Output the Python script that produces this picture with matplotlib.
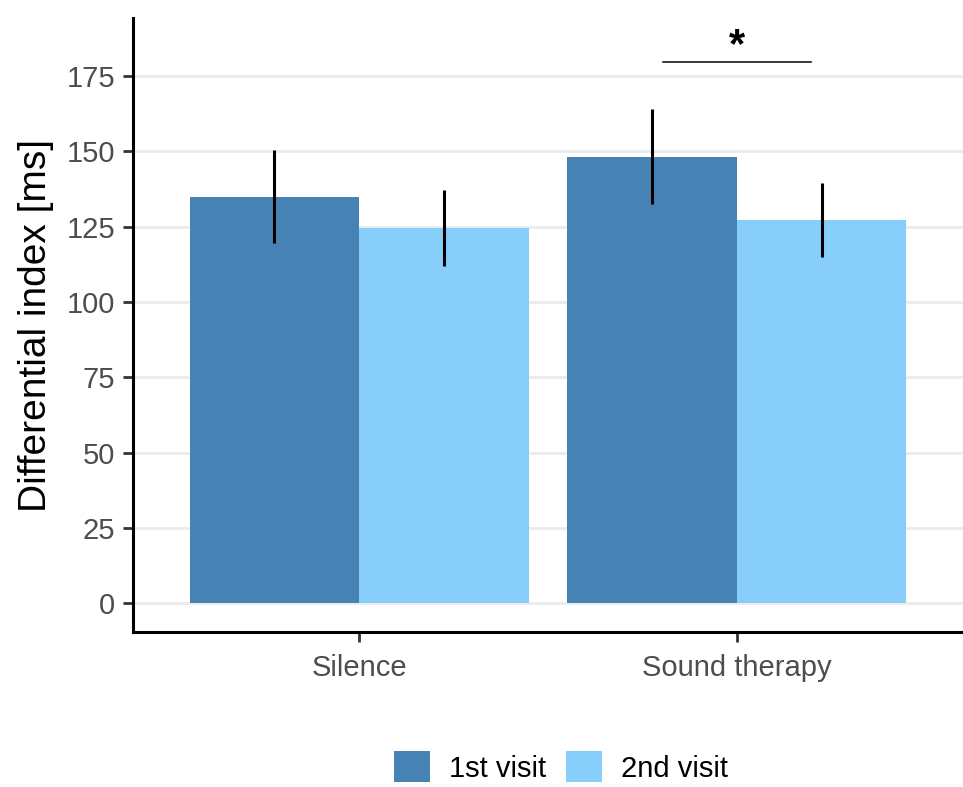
import numpy as np
import matplotlib
matplotlib.use("Agg")
import matplotlib.pyplot as plt
from matplotlib.patches import Patch

plt.rcParams['font.family'] = ['Liberation Sans', 'DejaVu Sans']

# data
conditions = ["Silence", "Sound therapy"]
visits = ["1st visit", "2nd visit"]
means_1st = [135.0, 148.2]
means_2nd = [124.5, 127.2]
err_1st = [15.5, 15.8]
err_2nd = [12.6, 12.3]
colors = ["#4682B4", "#87CEFA"]
y_ticks = [0, 25, 50, 75, 100, 125, 150, 175]

fig = plt.figure(figsize=(9.63, 7.87), dpi=100)
ax = fig.add_axes([133 / 963, 1 - 632 / 787, 830 / 963, 614 / 787])

x = np.arange(1, len(conditions) + 1)
w = 0.45
ax.set_axisbelow(True)
ax.grid(axis='y', color='#EBEBEB', linewidth=2)
ax.bar(x - w / 2, means_1st, width=w, color=colors[0], zorder=2)
ax.bar(x + w / 2, means_2nd, width=w, color=colors[1], zorder=2)
ax.errorbar(x - w / 2, means_1st, yerr=err_1st, fmt='none', ecolor='black',
            elinewidth=2.2, capsize=0, zorder=3)
ax.errorbar(x + w / 2, means_2nd, yerr=err_2nd, fmt='none', ecolor='black',
            elinewidth=2.2, capsize=0, zorder=3)

# significance marker
ax.plot([1.805, 2.198], [179.7, 179.7], color='black', linewidth=1.1)
ax.text(2.0, 178.3, "*", ha='center', va='bottom', fontsize=30,
        fontweight='bold')

ax.set_xlim(0.4, 2.6)
ax.set_ylim(-9.6, 194.3)
ax.set_xticks(x)
ax.set_xticklabels(conditions)
ax.set_yticks(y_ticks)
ax.tick_params(axis='both', labelsize=21, labelcolor='#4D4D4D', color='#333333',
               length=7, width=2)
ax.tick_params(axis='x', pad=9)
ax.tick_params(axis='y', pad=6)
ax.set_ylabel("Differential index [ms]", fontsize=28, labelpad=9)
for s in ['top', 'right']:
    ax.spines[s].set_visible(False)
for s in ['left', 'bottom']:
    ax.spines[s].set_linewidth(2.2)
    ax.spines[s].set_color('black')

handles = [Patch(facecolor=c, edgecolor='none') for c in colors]
fig.legend(handles, visits, loc='center', bbox_to_anchor=(561 / 963, 1 - 767 / 787),
           ncol=2, frameon=False, fontsize=21, handlelength=1.24, handleheight=1.24,
           handletextpad=0.65, columnspacing=0.7, borderpad=0)

fig.savefig("out.png", dpi=100)
